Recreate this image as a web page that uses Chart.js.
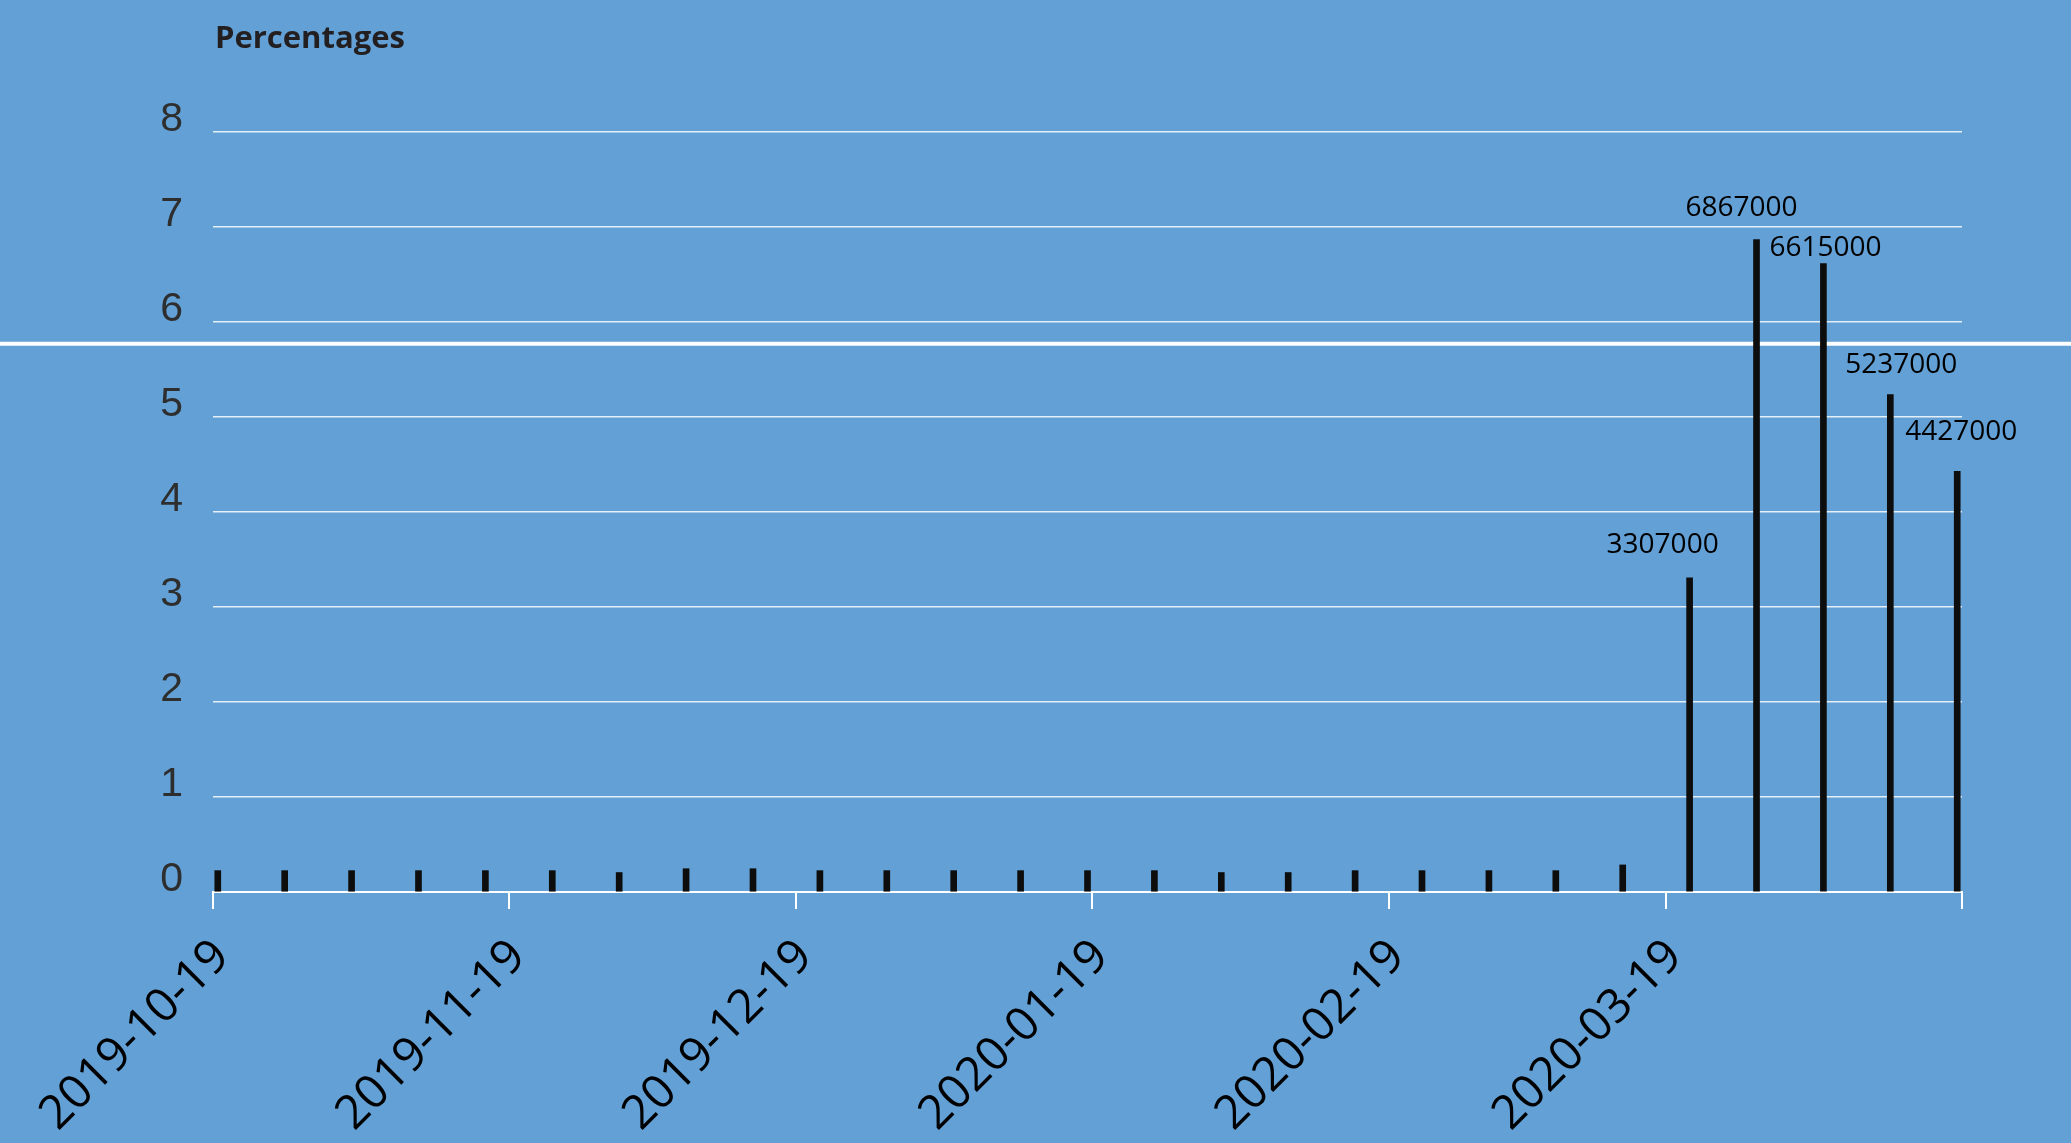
<!DOCTYPE html>
<html>
<head>
<meta charset="utf-8">
<title>Percentages</title>
<script src="https://cdn.jsdelivr.net/npm/chart.js@4.4.0/dist/chart.umd.min.js"></script>
<style>
  html, body { margin: 0; padding: 0; background: #62a0d5; }
  canvas { display: block; }
</style>
</head>
<body>
<canvas id="graficoSemanal" width="2071" height="1143"></canvas>
<script>
// weekly values (week ending date)
var weeks = ['2019-10-19', '2019-10-26', '2019-11-02', '2019-11-09', '2019-11-16', '2019-11-23',
  '2019-11-30', '2019-12-07', '2019-12-14', '2019-12-21', '2019-12-28', '2020-01-04',
  '2020-01-11', '2020-01-18', '2020-01-25', '2020-02-01', '2020-02-08', '2020-02-15',
  '2020-02-22', '2020-02-29', '2020-03-07', '2020-03-14', '2020-03-21', '2020-03-28',
  '2020-04-04', '2020-04-11', '2020-04-18']
var claims = [225000, 225000, 225000, 225000, 225000, 225000,
  205000, 245000, 245000, 225000, 225000, 225000,
  225000, 225000, 225000, 205000, 205000, 225000,
  225000, 225000, 225000, 285000, 3307000, 6867000,
  6615000, 5237000, 4427000]
var tickDates = ['2019-10-19', '2019-11-19', '2019-12-19', '2020-01-19', '2020-02-19', '2020-03-19']
var axisEnd = '2020-04-19'
var yTicks = [0, 1, 2, 3, 4, 5, 6, 7, 8]
var whiteLine = 5.77
var titleText = 'Percentages'

function dayOf(d) {
  return (Date.parse(d) - Date.parse(tickDates[0])) / 86400000
}

// bars sit at noon of the week ending day, height in millions
var pontos = []
for (var i = 0; i < weeks.length; i++) {
  pontos.push({ x: dayOf(weeks[i]) + 0.5, y: claims[i] / 1000000 })
}

var extras = {
  id: 'extras',
  beforeDraw: function (chart) {
    var ctx = chart.ctx
    ctx.save()
    ctx.fillStyle = '#62a0d5'
    ctx.fillRect(0, 0, chart.width, chart.height)
    ctx.restore()
  },
  beforeDatasetsDraw: function (chart) {
    var ctx = chart.ctx
    var y = chart.scales.y.getPixelForValue(whiteLine)
    ctx.save()
    ctx.strokeStyle = '#ffffff'
    ctx.lineWidth = 4
    ctx.beginPath()
    ctx.moveTo(0, y)
    ctx.lineTo(chart.width, y)
    ctx.stroke()
    ctx.restore()
  },
  afterDatasetsDraw: function (chart, args, opts) {
    var ctx = chart.ctx
    var meta = chart.getDatasetMeta(0)
    var k = 0
    ctx.save()
    ctx.font = '28px "Open Sans"'
    ctx.fillStyle = '#000000'
    ctx.textAlign = 'center'
    ctx.textBaseline = 'alphabetic'
    for (var i = 0; i < meta.data.length; i++) {
      if (claims[i] < 1000000) continue
      var bar = meta.data[i]
      var n = opts.nudge[k] || [0, 20]
      ctx.fillText(String(claims[i]), bar.x + n[0], bar.y - n[1])
      k++
    }
    ctx.restore()
  },
  afterDraw: function (chart) {
    var ctx = chart.ctx
    ctx.save()
    ctx.font = 'bold 31px "Open Sans"'
    ctx.fillStyle = '#231f20'
    ctx.textAlign = 'left'
    ctx.textBaseline = 'alphabetic'
    ctx.fillText(titleText, 215, 48)
    ctx.restore()
  }
}

var ctx = document.getElementById('graficoSemanal')

var graficoSemanal = new Chart(ctx, {
  type: 'bar',
  data: {
    datasets: [{
      label: titleText,
      data: pontos,
      backgroundColor: '#0d0d0d',
      borderColor: '#000000',
      borderWidth: 0,
      barThickness: 6
    }]
  },
  options: {
    responsive: false,
    animation: false,
    layout: { padding: { top: 132, right: 109, left: 0, bottom: 0 } },
    plugins: {
      legend: { display: false },
      tooltip: { enabled: false },
      extras: { nudge: [[-27, 25], [-15, 24], [2, 8], [11, 21], [4, 31]] }
    },
    scales: {
      x: {
        type: 'linear',
        offset: false,
        min: 0,
        max: dayOf(axisEnd),
        afterBuildTicks: function (scale) {
          scale.ticks = tickDates.concat([axisEnd]).map(function (d) { return { value: dayOf(d) } })
        },
        afterFit: function (scale) { scale.height = 1143 - 892 },
        grid: { offset: false, drawOnChartArea: false, drawTicks: true, tickLength: 17, color: '#ffffff', lineWidth: 2 },
        border: { color: '#ffffff', width: 2 },
        ticks: {
          autoSkip: false,
          minRotation: 45,
          maxRotation: 45,
          padding: 20,
          labelOffset: 9,
          color: '#000000',
          font: { family: 'Open Sans', size: 47 },
          callback: function (v, i) { return tickDates[i] || '' }
        }
      },
      y: {
        min: 0,
        max: 8,
        afterBuildTicks: function (scale) {
          scale.ticks = yTicks.map(function (v) { return { value: v } })
        },
        afterFit: function (scale) { scale.width = 213 },
        grid: { drawTicks: false, color: 'rgba(236,243,250,0.95)', lineWidth: 1.5 },
        border: { display: false },
        ticks: {
          padding: 30,
          labelOffset: -12,
          color: '#2e2e2e',
          font: { family: 'Liberation Sans', size: 41 }
        }
      }
    }
  },
  plugins: [extras]
})
</script>
</body>
</html>
